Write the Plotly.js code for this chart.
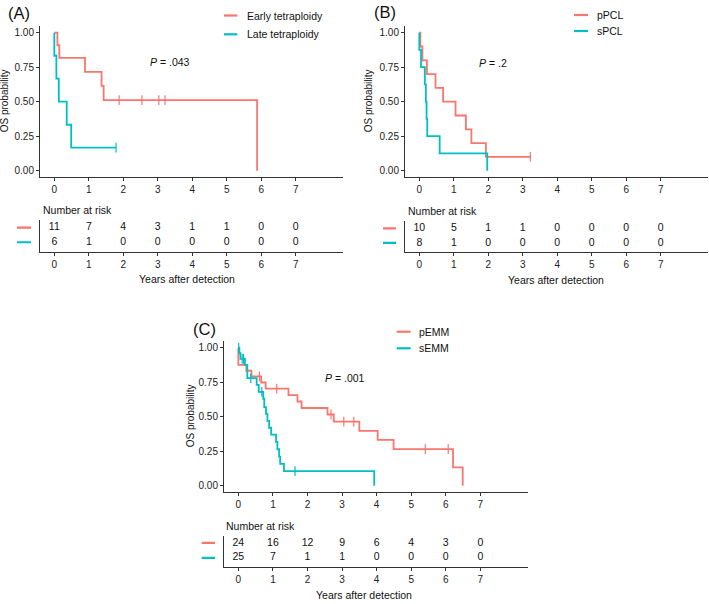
<!DOCTYPE html>
<html>
<head>
<meta charset="utf-8">
<script src="https://cdn.plot.ly/plotly-3.0.1.min.js"></script>
<style>
  body { margin: 0; background: #fff; }
  #plot { width: 709px; height: 604px; }
</style>
</head>
<body>
<div id="plot"></div>
<script>
const years = [0, 1, 2, 3, 4, 5, 6, 7];
const yTicks = [0, 0.25, 0.5, 0.75, 1];
const red = '#F8766D', teal = '#00BFC4';

// (A) tetraploidy
const groupsA = ['Early tetraploidy', 'Late tetraploidy'];
const earlyTime = [0, 0.09, 0.145, 0.89, 1.37, 1.43, 5.88];
const earlySurv = [1, 0.909, 0.818, 0.716, 0.614, 0.511, 0];
const earlyCens = [1.88, 2.54, 3.03, 3.21];
const lateTime = [0, 0, 0.06, 0.13, 0.36, 0.49];
const lateSurv = [1, 0.833, 0.667, 0.5, 0.333, 0.167];
const lateCens = [1.79];
const riskEarly = [11, 7, 4, 3, 1, 1, 0, 0];
const riskLate = [6, 1, 0, 0, 0, 0, 0, 0];

// (B) PCL
const groupsB = ['pPCL', 'sPCL'];
const pPclTime = [0, 0.03, 0.09, 0.22, 0.47, 0.69, 1.05, 1.35, 1.51, 1.93];
const pPclSurv = [1, 0.9, 0.8, 0.7, 0.6, 0.5, 0.4, 0.3, 0.2, 0.1];
const pPclCens = [3.22];
const sPclTime = [0, 0, 0.05, 0.16, 0.19, 0.21, 0.23, 0.59, 1.97];
const sPclSurv = [1, 0.875, 0.75, 0.625, 0.5, 0.375, 0.25, 0.125, 0];
const sPclCens = [];
const riskPPcl = [10, 5, 1, 1, 0, 0, 0, 0];
const riskSPcl = [8, 1, 0, 0, 0, 0, 0, 0];

// (C) EMM
const groupsC = ['pEMM', 'sEMM'];
const pEmmTime = [0, 0, 0.23, 0.38, 0.66, 0.79, 1.45, 1.71, 1.83, 2.58, 2.76, 3.5, 4.03, 4.49, 6.21, 6.49];
const pEmmSurv = [1, 0.875, 0.833, 0.792, 0.748, 0.704, 0.657, 0.61, 0.563, 0.516, 0.465, 0.398, 0.332, 0.265, 0.133, 0];
const pEmmCens = [0.61, 1.11, 2.68, 3.05, 3.34, 5.41, 6.07];
const sEmmTime = [0, 0.03, 0.06, 0.19, 0.26, 0.53, 0.59, 0.72, 0.75, 0.8, 0.84, 0.89, 0.95, 1.09, 1.13, 1.18, 1.21, 1.32, 3.93];
const sEmmSurv = [1, 0.96, 0.92, 0.875, 0.78, 0.73, 0.68, 0.63, 0.57, 0.52, 0.47, 0.42, 0.37, 0.317, 0.264, 0.211, 0.158, 0.106, 0];
const sEmmCens = [0.01, 0.11, 0.15, 0.36, 0.68, 1.64];
const riskPEmm = [24, 16, 12, 9, 6, 4, 3, 0];
const riskSEmm = [25, 7, 1, 1, 0, 0, 0, 0];

const pValues = ['.043', '.2', '.001'];

const W = 709, H = 604;
const px = v => v / W;
const py = v => 1 - v / H;
const font = 'Liberation Sans, Arial, sans-serif';

function survAt(times, surv, t) {
    let s = surv[0];
    for (let i = 0; i < times.length; i++) if (times[i] <= t) s = surv[i];
    return s;
}

function kmTraces(times, surv, cens, color, xa, ya) {
    const x = times.slice(), y = surv.slice();
    const lastC = cens.length ? Math.max(...cens) : -1;
    if (lastC > x[x.length - 1]) { x.push(lastC); y.push(y[y.length - 1]); }
    return [{
        x: x, y: y, xaxis: xa, yaxis: ya,
        type: 'scatter', mode: 'lines',
        line: { shape: 'hv', color: color, width: 1.8 },
        hoverinfo: 'skip', showlegend: false
    }, {
        x: cens, y: cens.map(t => survAt(times, surv, t)), xaxis: xa, yaxis: ya,
        type: 'scatter', mode: 'markers',
        marker: { symbol: 'line-ns-open', size: 7, color: color, line: { color: color, width: 1.2 } },
        hoverinfo: 'skip', showlegend: false
    }];
}

function riskTrace(values, row, xa, ya) {
    return {
        x: years, y: years.map(() => row), text: values.map(String),
        xaxis: xa, yaxis: ya, type: 'scatter', mode: 'text',
        textposition: 'middle center',
        textfont: { family: font, size: 10.5, color: '#111' },
        hoverinfo: 'skip', showlegend: false
    };
}

const traces = [
    ...kmTraces(earlyTime, earlySurv, earlyCens, red, 'x', 'y'),
    ...kmTraces(lateTime, lateSurv, lateCens, teal, 'x', 'y'),
    riskTrace(riskEarly, 2, 'x2', 'y2'),
    riskTrace(riskLate, 1, 'x2', 'y2'),
    ...kmTraces(pPclTime, pPclSurv, pPclCens, red, 'x3', 'y3'),
    ...kmTraces(sPclTime, sPclSurv, sPclCens, teal, 'x3', 'y3'),
    riskTrace(riskPPcl, 2, 'x4', 'y4'),
    riskTrace(riskSPcl, 1, 'x4', 'y4'),
    ...kmTraces(pEmmTime, pEmmSurv, pEmmCens, red, 'x5', 'y5'),
    ...kmTraces(sEmmTime, sEmmSurv, sEmmCens, teal, 'x5', 'y5'),
    riskTrace(riskPEmm, 2, 'x6', 'y6'),
    riskTrace(riskSEmm, 1, 'x6', 'y6')
];

const xRange = [-0.415, 8.37];
const axisCommon = {
    showgrid: false, zeroline: false, showline: true, linecolor: '#333', linewidth: 1,
    ticks: 'outside', ticklen: 3, tickcolor: '#333', tickwidth: 1,
    tickfont: { family: font, size: 10, color: '#222' }, fixedrange: true
};
function plotX(dom, anchor) {
    return Object.assign({}, axisCommon, { domain: dom, range: xRange, tickvals: years, anchor: anchor });
}
function plotY(dom, anchor) {
    return Object.assign({}, axisCommon, { domain: dom, range: [-0.0435, 1.0486], tickvals: yTicks, tickformat: '.2f', anchor: anchor });
}
function tableY(dom, anchor) {
    return Object.assign({}, axisCommon, { domain: dom, range: [0.36, 2.5], ticks: '', showticklabels: false, anchor: anchor });
}

// panel geometry in pixels
const panels = [
    { left: 40, right: 343, top: 26, bottom: 176.7, tTop: 220.4, tBottom: 251.6 },
    { left: 405, right: 708, top: 26, bottom: 176.7, tTop: 221, tBottom: 252.3 },
    { left: 224, right: 527.7, top: 341, bottom: 491.7, tTop: 535.5, tBottom: 567.3 }
];
const dx = p => [px(p.left), px(p.right)];
const dyPlot = p => [py(p.bottom), py(p.top)];
const dyTable = p => [py(p.tBottom), py(p.tTop)];

const layout = {
    width: W, height: H,
    margin: { l: 0, r: 0, t: 0, b: 0 },
    paper_bgcolor: '#fff', plot_bgcolor: '#fff',
    font: { family: font, color: '#111' },
    showlegend: false,
    xaxis: plotX(dx(panels[0]), 'y'), yaxis: plotY(dyPlot(panels[0]), 'x'),
    xaxis2: plotX(dx(panels[0]), 'y2'), yaxis2: tableY(dyTable(panels[0]), 'x2'),
    xaxis3: plotX(dx(panels[1]), 'y3'), yaxis3: plotY(dyPlot(panels[1]), 'x3'),
    xaxis4: plotX(dx(panels[1]), 'y4'), yaxis4: tableY(dyTable(panels[1]), 'x4'),
    xaxis5: plotX(dx(panels[2]), 'y5'), yaxis5: plotY(dyPlot(panels[2]), 'x5'),
    xaxis6: plotX(dx(panels[2]), 'y6'), yaxis6: tableY(dyTable(panels[2]), 'x6'),
    annotations: [], shapes: []
};

function txt(x, y, text, size, xanchor, extra) {
    return Object.assign({ xref: 'paper', yref: 'paper', x: px(x), y: py(y), text: text,
        showarrow: false, xanchor: xanchor || 'center', yanchor: 'middle',
        font: { family: font, size: size, color: '#111' } }, extra || {});
}

const labels = ['(A)', '(B)', '(C)'];
const labelPos = [[6, 13], [372, 12], [191, 329]];
const pPos = [[170, 62], [493, 63], [345, 378]];
const yTitleX = [4, 368, 190];
const xTitlePos = [[187, 279], [556, 280], [364, 595]];
const nriskPos = [[40.5, 210], [405.5, 211], [224.3, 526]];
const legPos = [{ x0: 224, x1: 237.3, tx: 245, y: [15.5, 34.3] },
                { x0: 574, x1: 588, tx: 595, y: [15, 31] },
                { x0: 396.7, x1: 410.7, tx: 416.7, y: [331.7, 348.3] }];
const dashX = [[17, 31], [383, 396], [201.7, 215]];
const groups = [groupsA, groupsB, groupsC];
const tableYRef = ['y2', 'y4', 'y6'];

for (let i = 0; i < 3; i++) {
    layout.annotations.push(txt(labelPos[i][0], labelPos[i][1], labels[i], 16.5, 'left'));
    layout.annotations.push(txt(pPos[i][0], pPos[i][1], '<i>P</i> = ' + pValues[i], 10.5));
    layout.annotations.push(txt(yTitleX[i], (panels[i].top + panels[i].bottom) / 2, 'OS probability', 10, 'center', { textangle: -90 }));
    layout.annotations.push(txt(xTitlePos[i][0], xTitlePos[i][1], 'Years after detection', 10.5));
    layout.annotations.push(txt(nriskPos[i][0], nriskPos[i][1], 'Number at risk', 10.5, 'left'));
    [red, teal].forEach((c, j) => {
        const lp = legPos[i];
        layout.shapes.push({ type: 'line', xref: 'paper', yref: 'paper',
            x0: px(lp.x0), x1: px(lp.x1), y0: py(lp.y[j]), y1: py(lp.y[j]),
            line: { color: c, width: 2.2 } });
        layout.annotations.push(txt(lp.tx, lp.y[j], groups[i][j], 10.5, 'left'));
        layout.shapes.push({ type: 'line', xref: 'paper', yref: tableYRef[i],
            x0: px(dashX[i][0]), x1: px(dashX[i][1]), y0: 2 - j, y1: 2 - j,
            line: { color: c, width: 2.2 } });
    });
}

Plotly.newPlot('plot', traces, layout, { displayModeBar: false, staticPlot: true });
</script>
</body>
</html>
